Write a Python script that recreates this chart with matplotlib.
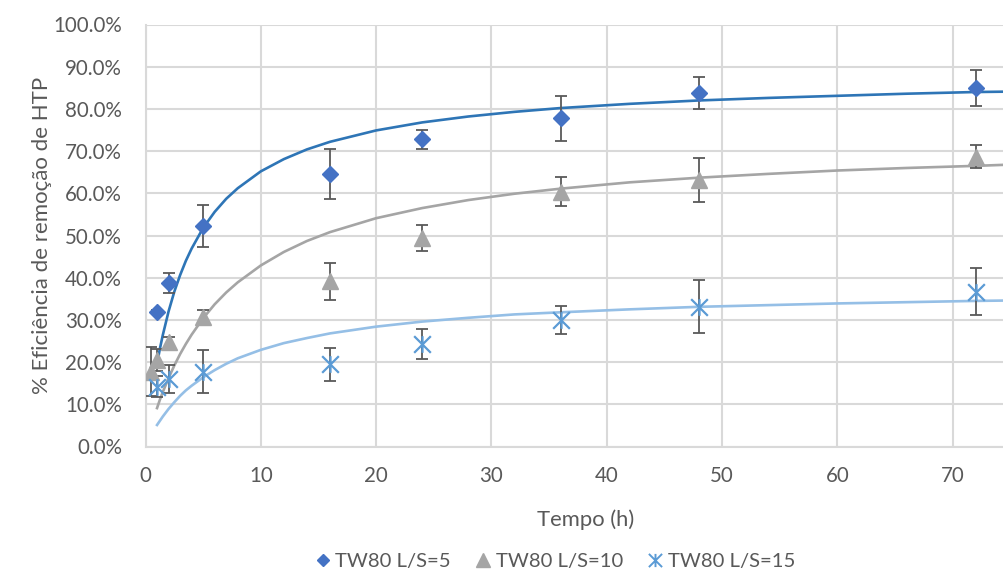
import matplotlib
matplotlib.use("Agg")
import matplotlib.pyplot as plt
from matplotlib.path import Path
from matplotlib.lines import Line2D
from matplotlib.ticker import FuncFormatter, MultipleLocator

plt.rcParams['font.family'] = ['Lato', 'DejaVu Sans']

# Measured removal efficiency (%) with standard deviations
t_ls5 = [1, 2, 5, 16, 24, 36, 48, 72]
eff_ls5 = [31.9, 38.7, 52.3, 64.5, 72.8, 77.8, 83.7, 85.0]
err_ls5 = [0.5, 2.3, 5.0, 5.9, 2.3, 5.3, 3.8, 4.3]

t_ls10 = [0.5, 1, 2, 5, 16, 24, 36, 48, 72]
eff_ls10 = [17.7, 20.5, 24.8, 30.8, 39.1, 49.4, 60.4, 63.2, 68.7]
err_ls10 = [5.8, 2.5, 1.2, 1.5, 4.5, 3.0, 3.4, 5.2, 2.7]

t_ls15 = [1, 2, 5, 16, 24, 36, 48, 72]
eff_ls15 = [14.2, 15.9, 17.7, 19.5, 24.3, 30.0, 33.1, 36.7]
err_ls15 = [2.5, 3.3, 5.1, 3.9, 3.6, 3.4, 6.3, 5.6]

# Kinetic model curves (%)
t_model = [1, 1.25, 1.5, 2, 2.5, 3, 3.5, 4, 5, 6, 7, 8, 10, 12, 14, 16,
           20, 24, 28, 32, 36, 42, 48, 54, 60, 66, 72, 75]
model_ls5 = [19.6, 23.2, 26.4, 32.0, 36.7, 40.6, 44.0, 46.9, 51.8, 55.6,
             58.7, 61.2, 65.2, 68.1, 70.4, 72.2, 74.9, 76.8, 78.2, 79.3,
             80.2, 81.2, 82.0, 82.6, 83.1, 83.6, 84.0, 84.1]
model_ls10 = [9.1, 11.1, 12.9, 16.2, 19.2, 21.9, 24.3, 26.5, 30.4, 33.7,
              36.5, 38.9, 42.9, 46.1, 48.7, 50.8, 54.1, 56.5, 58.4, 59.9,
              61.1, 62.6, 63.7, 64.6, 65.4, 66.0, 66.5, 66.8]
model_ls15 = [5.1, 6.1, 7.1, 8.9, 10.5, 12.0, 13.3, 14.4, 16.4, 18.1,
              19.6, 20.9, 22.9, 24.5, 25.7, 26.8, 28.4, 29.6, 30.5, 31.3,
              31.8, 32.5, 33.1, 33.5, 33.9, 34.2, 34.5, 34.6]

labels = ['TW80 L/S=5', 'TW80 L/S=10', 'TW80 L/S=15']
x_ticks = [0, 10, 20, 30, 40, 50, 60, 70]

C_LS5, C_LS5_LINE = '#4472C4', '#2E75B6'
C_LS10, C_LS10_LINE = '#A5A5A5', '#A5A5A5'
C_LS15, C_LS15_LINE = '#5B9BD5', '#95BFE6'
TXT = '#595959'
GRID = '#D9D9D9'

# Star marker: X with a vertical bar
star = Path([(-1, -1), (1, 1), (-1, 1), (1, -1), (0, -1), (0, 1)],
            [Path.MOVETO, Path.LINETO, Path.MOVETO, Path.LINETO,
             Path.MOVETO, Path.LINETO])

fig = plt.figure(figsize=(10.04, 5.71), dpi=100)
ax = fig.add_axes([145.5 / 1004, 1 - 446.5 / 571, 1 - 145.5 / 1004,
                   (446.5 - 24.5) / 571])

ax.set_xlim(0, (1004 - 145.5) / 11.53)
ax.set_ylim(0, 100)
ax.set_xticks(x_ticks)
ax.yaxis.set_major_locator(MultipleLocator(10))
ax.yaxis.set_major_formatter(FuncFormatter(lambda v, p: f'{v:.1f}%'))
ax.grid(True, color=GRID, linewidth=1.5, zorder=0)
ax.set_axisbelow(True)
for s in ['top', 'right']:
    ax.spines[s].set_visible(False)
for s in ['left', 'bottom']:
    ax.spines[s].set_color(GRID)
    ax.spines[s].set_linewidth(1.5)
ax.tick_params(axis='both', length=0, labelsize=14.8, colors=TXT)
ax.tick_params(axis='y', pad=17)
ax.tick_params(axis='x', pad=14)

# model curves
ax.plot(t_model, model_ls5, color=C_LS5_LINE, lw=1.9, zorder=2)
ax.plot(t_model, model_ls10, color=C_LS10_LINE, lw=1.9, zorder=2)
ax.plot(t_model, model_ls15, color=C_LS15_LINE, lw=1.9, zorder=2)

eb_kw = dict(fmt='none', ecolor='#595959', elinewidth=1.3, capsize=4.5,
             capthick=1.3, zorder=3)
ax.errorbar(t_ls5, eff_ls5, yerr=err_ls5, **eb_kw)
ax.errorbar(t_ls10, eff_ls10, yerr=err_ls10, **eb_kw)
ax.errorbar(t_ls15, eff_ls15, yerr=err_ls15, **eb_kw)

ax.plot(t_ls5, eff_ls5, ls='none', marker='D', ms=8, color=C_LS5,
        mec=C_LS5, zorder=4)
ax.plot(t_ls10, eff_ls10, ls='none', marker='^', ms=12, color=C_LS10,
        mec=C_LS10, zorder=4)
ax.plot(t_ls15, eff_ls15, ls='none', marker=star, ms=12, mew=1.6,
        color=C_LS15, mec=C_LS15, zorder=4)

fig.text(42 / 1004, 1 - 235.5 / 571, '% Eficiência de remoção de HTP',
         rotation=90, ha='center', va='center', fontsize=16, color=TXT)
fig.text(586 / 1004, 1 - 520 / 571, 'Tempo (h)', ha='center', va='center',
         fontsize=15.8, color=TXT)

handles = [
    Line2D([], [], ls='none', marker='D', ms=6.5, color=C_LS5),
    Line2D([], [], ls='none', marker='^', ms=9.5, color=C_LS10),
    Line2D([], [], ls='none', marker=star, ms=9.5, mew=1.4, color=C_LS15),
]
leg = fig.legend(handles, labels, loc='center', ncol=3, frameon=False,
                 bbox_to_anchor=(555 / 1004, 1 - 561.7 / 571),
                 fontsize=14.6, handlelength=0.8, handletextpad=0.2,
                 columnspacing=1.2, borderpad=0, borderaxespad=0)
for txt in leg.get_texts():
    txt.set_color(TXT)

fig.savefig('out.png', dpi=100)
